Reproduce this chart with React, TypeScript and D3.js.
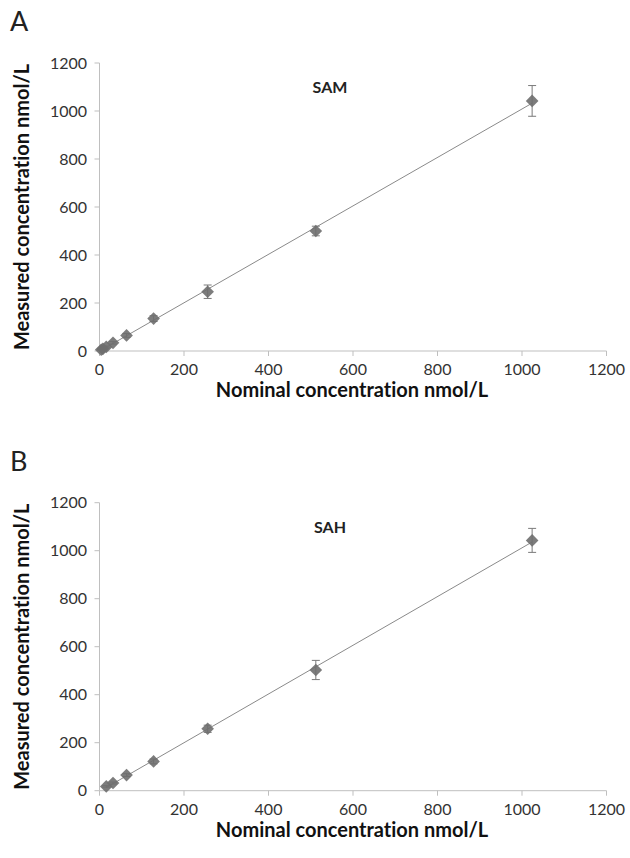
import React from "react";
import * as d3 from "d3";

// nominal concentrations (nmol/L)
const samNominal = [4, 8, 16, 32, 64, 128, 256, 512, 1024];
const samMeasured = [5, 9, 17, 34, 65, 135, 247, 500, 1042];
const samSd = [2, 3, 4, 5, 8, 12, 28, 20, 64];

const sahNominal = [16, 32, 64, 128, 256, 512, 1024];
const sahMeasured = [18, 32, 65, 122, 258, 503, 1043];
const sahSd = [3, 4, 6, 10, 15, 40, 50];

const axisTicks = [0, 200, 400, 600, 800, 1000, 1200];

const FONT = "Lato, 'Open Sans', sans-serif";
const AXIS = "#bfbfbf";
const MARK = "#6e6e6e";
const noLig = { fontVariantLigatures: "none" } as React.CSSProperties;

function fit(xs: number[], ys: number[]) {
  const mx = d3.mean(xs)!;
  const my = d3.mean(ys)!;
  const num = d3.sum(xs, (x, i) => (x - mx) * (ys[i] - my));
  const den = d3.sum(xs, (x) => (x - mx) * (x - mx));
  const slope = num / den;
  return { slope, intercept: my - slope * mx };
}

type PanelProps = {
  top: number;
  letter: string;
  title: string;
  nominal: number[];
  measured: number[];
  sd: number[];
};

const Panel = ({ top, letter, title, nominal, measured, sd }: PanelProps) => {
  const x = d3.scaleLinear().domain([0, 1200]).range([99.5, 606.5]);
  const y = d3.scaleLinear().domain([0, 1200]).range([top + 288, top]);
  const { slope, intercept } = fit(nominal, measured);
  const x0 = d3.min(nominal)!;
  const x1 = d3.max(nominal)!;
  const diamond = d3.symbol().type(d3.symbolSquare).size(80)();

  return (
    <g>
      <text x={10} y={top - 32} fontFamily={FONT} fontSize={27} fill="#222">
        {letter}
      </text>
      <text
        x={330}
        y={top + 30}
        textAnchor="middle"
        fontFamily={FONT}
        fontSize={16}
        fontWeight="bold"
        fill="#222"
      >
        {title}
      </text>
      {/* axes */}
      <line x1={x(0)} x2={x(0)} y1={y(0)} y2={y(1200)} stroke={AXIS} />
      <line x1={x(0)} x2={x(1200)} y1={y(0)} y2={y(0)} stroke={AXIS} />
      {axisTicks.map((t) => (
        <g key={"y" + t}>
          <line x1={x(0) - 5} x2={x(0)} y1={y(t)} y2={y(t)} stroke={AXIS} />
          <text
            x={87}
            y={y(t)}
            dy="0.35em"
            textAnchor="end"
            fontFamily={FONT}
            fontSize={16}
            fill="#333"
          >
            {t}
          </text>
        </g>
      ))}
      {axisTicks.map((t) => (
        <g key={"x" + t}>
          <line x1={x(t)} x2={x(t)} y1={y(0)} y2={y(0) + 5} stroke={AXIS} />
          <text
            x={x(t)}
            y={y(0) + 24}
            textAnchor="middle"
            fontFamily={FONT}
            fontSize={16}
            fill="#333"
          >
            {t}
          </text>
        </g>
      ))}
      <text
        x={352}
        y={y(0) + 46}
        textAnchor="middle"
        fontFamily={FONT}
        fontSize={20}
        fontWeight="bold"
        fill="#111"
        style={noLig}
      >
        Nominal concentration nmol/L
      </text>
      <text
        transform={`translate(29,${top + 144}) rotate(-90)`}
        textAnchor="middle"
        fontFamily={FONT}
        fontSize={20}
        fontWeight="bold"
        fill="#111"
        style={noLig}
      >
        Measured concentration nmol/L
      </text>
      {/* trend line */}
      <line
        x1={x(x0)}
        x2={x(x1)}
        y1={y(intercept + slope * x0)}
        y2={y(intercept + slope * x1)}
        stroke="#8a8a8a"
        strokeWidth={1}
      />
      {/* error bars */}
      {nominal.map((n, i) => (
        <g key={"e" + i} stroke="#7a7a7a" strokeWidth={1}>
          <line x1={x(n)} x2={x(n)} y1={y(measured[i] - sd[i])} y2={y(measured[i] + sd[i])} />
          <line x1={x(n) - 4} x2={x(n) + 4} y1={y(measured[i] - sd[i])} y2={y(measured[i] - sd[i])} />
          <line x1={x(n) - 4} x2={x(n) + 4} y1={y(measured[i] + sd[i])} y2={y(measured[i] + sd[i])} />
        </g>
      ))}
      {nominal.map((n, i) => (
        <path
          key={"p" + i}
          d={diamond!}
          transform={`translate(${x(n)},${y(measured[i])}) rotate(45)`}
          fill={MARK}
          opacity={0.9}
        />
      ))}
    </g>
  );
};

export default function App() {
  return (
    <svg
      width={630}
      height={858}
      style={{ position: "absolute", left: 0, top: 0, background: "#fff" }}
    >
      <rect width={630} height={858} fill="#fff" />
      <Panel
        top={63}
        letter="A"
        title="SAM"
        nominal={samNominal}
        measured={samMeasured}
        sd={samSd}
      />
      <Panel
        top={502.7}
        letter="B"
        title="SAH"
        nominal={sahNominal}
        measured={sahMeasured}
        sd={sahSd}
      />
    </svg>
  );
}
